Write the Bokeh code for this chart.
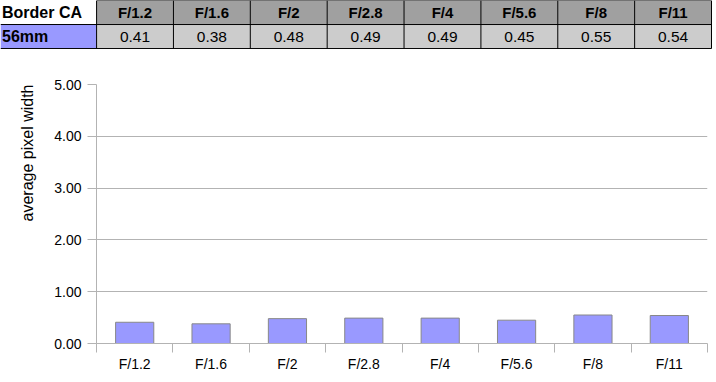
from bokeh.plotting import figure
from bokeh.models import Range1d, FixedTicker, NumeralTickFormatter, ColumnDataSource, Title
from bokeh.layouts import column
from bokeh.embed import file_html
from bokeh.resources import INLINE
from bokeh.core.properties import value

# ---- data ----
corner_label = "Border CA"
row_label = "56mm"
apertures = ["F/1.2", "F/1.6", "F/2", "F/2.8", "F/4", "F/5.6", "F/8", "F/11"]
ca_values = [0.41, 0.38, 0.48, 0.49, 0.49, 0.45, 0.55, 0.54]
y_ticks = [0, 1, 2, 3, 4, 5]
y_axis_title = "average pixel width"

FONT = "Liberation Sans"
GRID = "#b3b3b3"
n = len(apertures)
first_w = 1.25  # width of first table column, in column units

# ---- table figure ----
t = figure(width=716, height=49, x_range=Range1d(0, first_w + n + 0.065),
           y_range=Range1d(-0.04, 2.0), output_backend="svg",
           toolbar_location=None, min_border=0)
t.frame_align = False
t.axis.visible = False
t.grid.visible = False
t.outline_line_color = None

col_x = [first_w + i + 0.5 for i in range(n)]
t.rect(x=col_x, y=[1.5] * n, width=1, height=1, fill_color="#a0a0a0", line_color=None)
t.rect(x=col_x, y=[0.5] * n, width=1, height=1, fill_color="#cccccc", line_color=None)
t.rect(x=[first_w / 2], y=[0.5], width=first_w, height=1, fill_color="#9999ff", line_color=None)

right = first_w + n
# horizontal borders
t.segment(x0=[0, 0, first_w], y0=[1, 0, 2], x1=[right, right, right], y1=[1, 0, 2],
          line_color="black", line_width=1)
# vertical borders
vx = [first_w + k for k in range(n + 1)]
t.segment(x0=vx, y0=[0] * len(vx), x1=vx, y1=[2] * len(vx), line_color="black", line_width=1)

t.text(x=col_x, y=[1.5] * n, text=apertures, text_align="center", text_baseline="middle",
       text_font=value(FONT), text_font_style="bold", text_font_size="15px", text_color="black")
t.text(x=col_x, y=[0.5] * n, text=["%.2f" % v for v in ca_values], text_align="center",
       text_baseline="middle", text_font=value(FONT), text_font_size="15.5px", text_color="black")
t.text(x=[0.02, 0.02], y=[1.5, 0.5], text=[corner_label, row_label], text_align="left",
       text_baseline="middle", text_font=value(FONT), text_font_style="bold",
       text_font_size="16px", text_color="black")

# ---- chart figure ----
p = figure(width=716, height=333, x_range=Range1d(0, n), y_range=Range1d(0, 5),
           output_backend="svg", toolbar_location=None,
           min_border_left=96, min_border_right=9, min_border_top=35, min_border_bottom=39)
p.outline_line_color = None

src = ColumnDataSource(dict(x=[i + 0.5 for i in range(n)], top=ca_values))
p.vbar(x="x", top="top", bottom=0, width=0.5, source=src,
       fill_color="#9999ff", line_color="#888888", line_width=1)

centers = [i + 0.5 for i in range(n)]
p.xaxis.ticker = FixedTicker(ticks=centers, minor_ticks=list(range(n + 1)))
p.xaxis.major_label_overrides = {c: lab for c, lab in zip(centers, apertures)}
p.xaxis.major_tick_out = 0
p.xaxis.major_tick_in = 0
p.xaxis.major_tick_line_color = None
p.xaxis.minor_tick_out = 9
p.xaxis.minor_tick_in = 0
p.xaxis.minor_tick_line_color = GRID
p.xaxis.axis_line_color = GRID
p.xaxis.major_label_standoff = 3

p.yaxis.ticker = FixedTicker(ticks=y_ticks)
p.yaxis.formatter = NumeralTickFormatter(format="0.00")
p.yaxis.major_tick_out = 9
p.yaxis.major_tick_in = 0
p.yaxis.minor_tick_line_color = None
p.yaxis.major_tick_line_color = GRID
p.yaxis.axis_line_color = GRID
p.yaxis.major_label_standoff = 6

for ax in (p.xaxis, p.yaxis):
    ax.major_label_text_font = FONT
    ax.major_label_text_font_size = "14px"
    ax.major_label_text_color = "black"

# y-axis title, top-aligned with the plot area as in the reference
p.add_layout(Title(text=y_axis_title, align="right", standoff=31,
                   text_font=FONT, text_font_size="16px", text_font_style="normal",
                   text_color="black"), "left")

p.xgrid.grid_line_color = None
p.ygrid.ticker = FixedTicker(ticks=y_ticks)
p.ygrid.grid_line_color = GRID

layout = column(t, p, spacing=0)
open("out.html", "w").write(file_html(layout, INLINE))
